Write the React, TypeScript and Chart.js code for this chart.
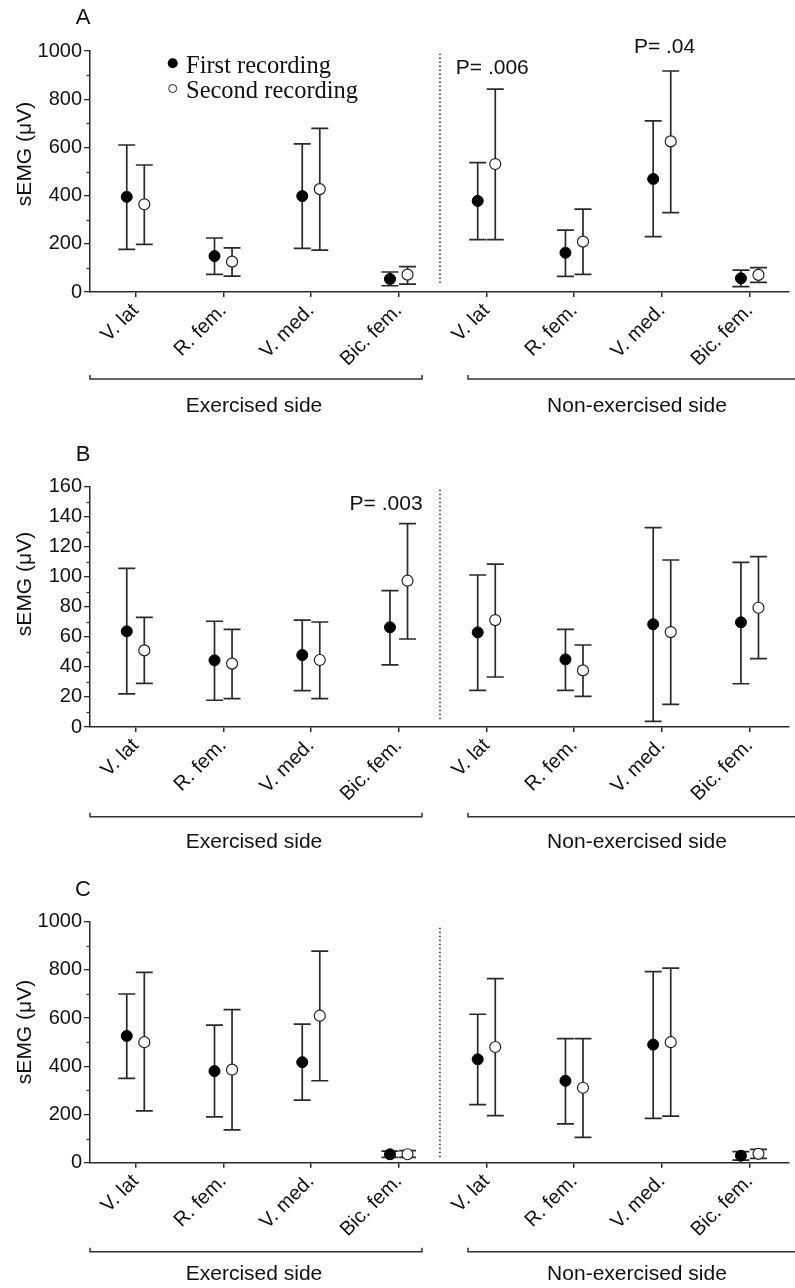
import React, { useEffect, useRef } from "react";
import { Chart, registerables } from "chart.js";
Chart.register(...registerables);

const muscles = ["V. lat", "R. fem.", "V. med.", "Bic. fem.", "V. lat", "R. fem.", "V. med.", "Bic. fem."];
const groupLabels = ["Exercised side", "Non-exercised side"];
const seriesNames = ["First recording", "Second recording"];

// Panel A
const aFirstMean = [395, 149, 398, 54, 378, 163, 469, 57];
const aFirstHigh = [610, 224, 615, 83, 537, 257, 710, 91];
const aFirstLow = [177, 73, 181, 26, 217, 65, 230, 22];
const aSecondMean = [364, 126, 427, 72, 531, 209, 625, 71];
const aSecondHigh = [527, 183, 679, 105, 842, 344, 917, 101];
const aSecondLow = [198, 66, 174, 33, 217, 73, 329, 40];
const aTicks = [0, 200, 400, 600, 800, 1000];

// Panel B
const bFirstMean = [63.7, 44.4, 47.9, 66.4, 63, 45, 68.4, 69.7];
const bFirstHigh = [105.6, 70.4, 71.2, 90.8, 101.2, 65, 132.7, 109.6];
const bFirstLow = [22, 17.8, 24.2, 41.3, 24.4, 24.4, 3.8, 28.8];
const bSecondMean = [51, 42.2, 44.6, 97.4, 71.2, 37.7, 63.2, 79.4];
const bSecondHigh = [73, 65, 69.9, 135.4, 108.5, 54.6, 111.2, 113.4];
const bSecondLow = [29, 18.9, 18.9, 58.6, 33.3, 20.4, 15.1, 45.5];
const bTicks = [0, 20, 40, 60, 80, 100, 120, 140, 160];

// Panel C
const cFirstMean = [526, 380, 417, 35, 429, 340, 490, 29];
const cFirstHigh = [700, 571, 575, 48, 616, 515, 793, 46];
const cFirstLow = [350, 190, 260, 22, 241, 161, 184, 11];
const cSecondMean = [500, 386, 610, 35, 480, 311, 500, 37];
const cSecondHigh = [790, 635, 878, 50, 764, 515, 807, 55];
const cSecondLow = [215, 136, 340, 22, 195, 105, 193, 18];
const cTicks = [0, 200, 400, 600, 800, 1000];

const SANS = "'Liberation Sans', Arial, sans-serif";
const SERIF = "'Liberation Serif', 'Times New Roman', serif";
const AXIS = "#2a2a2a";
const TEXT = "#111";

type PLabel = { text: string; x: number; y: number };
type Panel = {
  letter: string;
  top: number;
  height: number;
  chartTop: number;
  chartBottom: number;
  yMax: number;
  yTicks: number[];
  minorStep: number;
  first: [number[], number[], number[]];
  second: [number[], number[], number[]];
  dotted: [number, number];
  bracketY: number;
  labelY: number;
  letterY: number;
  titleY: number;
  pLabels: PLabel[];
  legend: boolean;
};

const panels: Panel[] = [
  {
    letter: "A", top: 0, height: 430, chartTop: 51, chartBottom: 292,
    yMax: 1000, yTicks: aTicks, minorStep: 100,
    first: [aFirstMean, aFirstHigh, aFirstLow],
    second: [aSecondMean, aSecondHigh, aSecondLow],
    dotted: [990, 35], bracketY: 379, labelY: 406, letterY: 18, titleY: 154,
    pLabels: [{ text: "P= .006", x: 3.65, y: 929 }, { text: "P= .04", x: 5.68, y: 1017 }],
    legend: true,
  },
  {
    letter: "B", top: 430, height: 440, chartTop: 56.7, chartBottom: 297,
    yMax: 160, yTicks: bTicks, minorStep: 10,
    first: [bFirstMean, bFirstHigh, bFirstLow],
    second: [bSecondMean, bSecondHigh, bSecondLow],
    dotted: [158, 5], bracketY: 386.7, labelY: 412, letterY: 25, titleY: 154,
    pLabels: [{ text: "P= .003", x: 2.44, y: 148.5 }],
    legend: false,
  },
  {
    letter: "C", top: 870, height: 418, chartTop: 51.7, chartBottom: 292.7,
    yMax: 1000, yTicks: cTicks, minorStep: 100,
    first: [cFirstMean, cFirstHigh, cFirstLow],
    second: [cSecondMean, cSecondHigh, cSecondLow],
    dotted: [975, 20], bracketY: 381.7, labelY: 404, letterY: 20, titleY: 162,
    pLabels: [],
    legend: false,
  },
];

const OFFSET = 0.1;
const SEPARATOR = 3.47;

function makeOverlay(p: Panel) {
  return {
    id: "overlay" + p.letter,
    beforeDatasetsDraw(chart: any) {
      const { ctx } = chart;
      const x = chart.scales.x;
      const y = chart.scales.y;
      ctx.save();
      // minor ticks
      ctx.strokeStyle = AXIS;
      ctx.lineWidth = 1.2;
      for (let v = p.minorStep; v < p.yMax; v += p.minorStep * 2) {
        const py = Math.round(y.getPixelForValue(v)) + 0.5;
        ctx.beginPath();
        ctx.moveTo(x.left - 3.5, py);
        ctx.lineTo(x.left, py);
        ctx.stroke();
      }
      // dotted separator
      ctx.setLineDash([1.5, 2.5]);
      ctx.lineWidth = 1.5;
      const sx = x.getPixelForValue(SEPARATOR);
      ctx.beginPath();
      ctx.moveTo(sx, y.getPixelForValue(p.dotted[0]));
      ctx.lineTo(sx, y.getPixelForValue(p.dotted[1]));
      ctx.stroke();
      ctx.setLineDash([]);
      // error bars
      ctx.strokeStyle = "#2a2a2a";
      ctx.lineWidth = 1.7;
      chart.data.datasets.forEach((ds: any) => {
        ds.data.forEach((pt: any, i: number) => {
          const px = x.getPixelForValue(pt.x);
          const hi = y.getPixelForValue(ds.high[i]);
          const lo = y.getPixelForValue(ds.low[i]);
          ctx.beginPath();
          ctx.moveTo(px, hi);
          ctx.lineTo(px, lo);
          ctx.moveTo(px - 8.5, hi);
          ctx.lineTo(px + 8.5, hi);
          ctx.moveTo(px - 8.5, lo);
          ctx.lineTo(px + 8.5, lo);
          ctx.stroke();
        });
      });
      ctx.restore();
    },
    afterDraw(chart: any) {
      const { ctx } = chart;
      const x = chart.scales.x;
      const y = chart.scales.y;
      const W = chart.width;
      ctx.save();
      ctx.fillStyle = TEXT;
      // panel letter
      ctx.font = `22px ${SANS}`;
      ctx.textAlign = "center";
      ctx.textBaseline = "middle";
      ctx.fillText(p.letter, 83, p.letterY);
      // y title
      ctx.save();
      ctx.translate(25, p.titleY);
      ctx.rotate(-Math.PI / 2);
      ctx.font = `21px ${SANS}`;
      ctx.fillText("sEMG (\u03BCV)", 0, 0);
      ctx.restore();
      // brackets
      ctx.strokeStyle = "#333";
      ctx.lineWidth = 1.5;
      const by = p.bracketY;
      ctx.beginPath();
      ctx.moveTo(x.left, by - 4);
      ctx.lineTo(x.left, by);
      ctx.lineTo(422, by);
      ctx.lineTo(422, by - 4);
      ctx.moveTo(468, by - 4);
      ctx.lineTo(468, by);
      ctx.lineTo(W, by);
      ctx.stroke();
      // group labels
      ctx.font = `21px ${SANS}`;
      ctx.fillText(groupLabels[0], 254, p.labelY);
      ctx.fillText(groupLabels[1], 637, p.labelY);
      // p labels
      ctx.textAlign = "left";
      ctx.font = `21px ${SANS}`;
      p.pLabels.forEach((l) => {
        ctx.fillText(l.text, x.getPixelForValue(l.x), y.getPixelForValue(l.y));
      });
      // legend
      if (p.legend) {
        ctx.beginPath();
        ctx.arc(172.7, 63.3, 5, 0, Math.PI * 2);
        ctx.fillStyle = "#000";
        ctx.fill();
        ctx.beginPath();
        ctx.arc(172.7, 88.5, 4, 0, Math.PI * 2);
        ctx.fillStyle = "#fff";
        ctx.fill();
        ctx.strokeStyle = "#222";
        ctx.lineWidth = 1;
        ctx.stroke();
        ctx.fillStyle = TEXT;
        ctx.font = `24.5px ${SERIF}`;
        ctx.textBaseline = "alphabetic";
        ctx.fillText(seriesNames[0], 186, 73);
        ctx.fillText(seriesNames[1], 186, 97.5);
      }
      ctx.restore();
    },
  };
}

function PanelChart({ p }: { p: Panel }) {
  const ref = useRef<HTMLCanvasElement | null>(null);
  useEffect(() => {
    if (!ref.current) return;
    const mk = (arr: [number[], number[], number[]], off: number) =>
      arr[0].map((v, i) => ({ x: i + off, y: v }));
    const chart = new Chart(ref.current, {
      type: "scatter",
      data: {
        datasets: [
          {
            label: seriesNames[0],
            data: mk(p.first, -OFFSET),
            high: p.first[1],
            low: p.first[2],
            pointRadius: 5.5,
            pointBackgroundColor: "#000",
            pointBorderColor: "#000",
            pointBorderWidth: 1,
          } as any,
          {
            label: seriesNames[1],
            data: mk(p.second, OFFSET),
            high: p.second[1],
            low: p.second[2],
            pointRadius: 5.5,
            pointBackgroundColor: "#fff",
            pointBorderColor: "#222",
            pointBorderWidth: 1.2,
          } as any,
        ],
      },
      options: {
        animation: false,
        responsive: false,
        devicePixelRatio: 1,
        layout: { padding: { top: p.chartTop, left: 0, right: 0, bottom: 0 } },
        plugins: { legend: { display: false }, tooltip: { enabled: false } },
        scales: {
          x: {
            type: "linear",
            min: -0.519,
            max: 7.44,
            afterBuildTicks: (axis: any) => {
              axis.ticks = muscles.map((_, i) => ({ value: i }));
            },
            afterFit: (axis: any) => {
              axis.height = p.height - p.chartBottom;
            },
            ticks: {
              autoSkip: false,
              minRotation: 45,
              maxRotation: 45,
              padding: 2,
              color: TEXT,
              font: { family: SANS, size: 20 },
              callback: (_v: any, i: number) => muscles[i],
            },
            grid: { drawOnChartArea: false, tickLength: 5, color: AXIS, lineWidth: 1.5 },
            border: { display: true, color: AXIS, width: 1.5 },
          },
          y: {
            type: "linear",
            min: 0,
            max: p.yMax,
            afterBuildTicks: (axis: any) => {
              axis.ticks = p.yTicks.map((v) => ({ value: v }));
            },
            afterFit: (axis: any) => {
              axis.width = 90;
            },
            ticks: {
              padding: 2,
              color: TEXT,
              font: { family: SANS, size: 20 },
              callback: (v: any) => String(v),
            },
            grid: { drawOnChartArea: false, tickLength: 6, color: AXIS, lineWidth: 1.3 },
            border: { display: true, color: AXIS, width: 1.5 },
          },
        },
      } as any,
      plugins: [makeOverlay(p)],
    });
    return () => chart.destroy();
  }, [p]);
  return (
    <canvas
      ref={ref}
      width={795}
      height={p.height}
      style={{ position: "absolute", left: 0, top: p.top, width: 795, height: p.height }}
    />
  );
}

export default function App() {
  return (
    <div style={{ position: "absolute", left: 0, top: 0, width: 795, height: 1288, background: "#fff" }}>
      {panels.map((p) => (
        <PanelChart key={p.letter} p={p} />
      ))}
    </div>
  );
}
